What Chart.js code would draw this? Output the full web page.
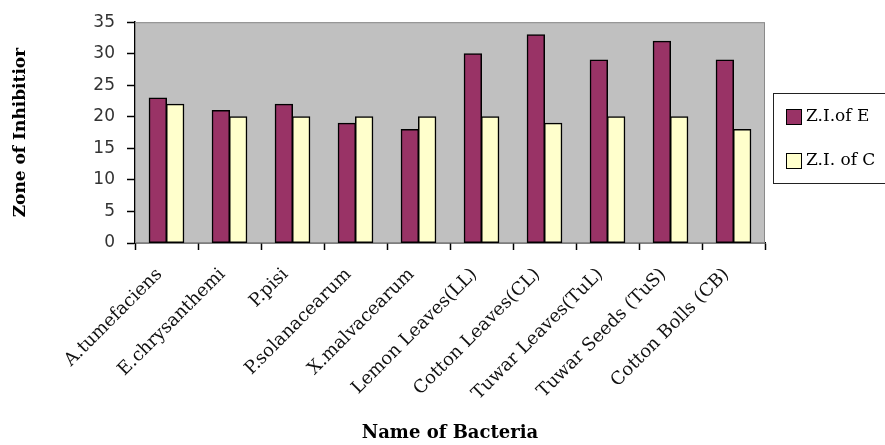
<!DOCTYPE html>
<html>
<head>
<meta charset="utf-8">
<script src="https://cdn.jsdelivr.net/npm/chart.js@4.4.1/dist/chart.umd.min.js"></script>
<style>
  html, body { margin: 0; padding: 0; background: #ffffff; }
  #wrap { width: 885px; height: 445px; }
</style>
</head>
<body>
<div id="wrap"><canvas id="c" width="885" height="445"></canvas></div>
<script>
// Bacteria / extract sources along the category axis
const categories = [
  'A.tumefaciens', 'E.chrysanthemi', 'P.pisi', 'P.solanacearum', 'X.malvacearum',
  'Lemon Leaves(LL)', 'Cotton Leaves(CL)', 'Tuwar Leaves(TuL)', 'Tuwar Seeds (TuS)', 'Cotton Bolls (CB)'
];
// Zone of inhibition values per series
const zoneE = [23, 21, 22, 19, 18, 30, 33, 29, 32, 29];
const zoneC = [22, 20, 20, 20, 20, 20, 19, 20, 20, 18];
const seriesNames = ['Z.I.of E', 'Z.I. of C'];
const yTicks = [0, 5, 10, 15, 20, 25, 30, 35];

const SERIF = "'DejaVu Serif', 'Liberation Serif', serif";
const SANS = "'DejaVu Sans', sans-serif";

// Grey plot area with a thin frame
const plotBackground = {
  id: 'plotBackground',
  beforeDatasetsDraw(chart) {
    const { ctx, chartArea: a } = chart;
    ctx.save();
    ctx.fillStyle = '#c0c0c0';
    ctx.fillRect(a.left, a.top, a.right - a.left, a.bottom - a.top);
    ctx.strokeStyle = '#8a8a8a';
    ctx.lineWidth = 1;
    ctx.strokeRect(a.left + 0.5, a.top + 0.5, a.right - a.left - 1, a.bottom - a.top - 1);
    ctx.restore();
  }
};

// Boxed legend on the right, built from the datasets
const boxLegend = {
  id: 'boxLegend',
  afterDraw(chart) {
    const { ctx } = chart;
    const left = 773, top = 93, bottom = 183;
    ctx.save();
    ctx.strokeStyle = '#222';
    ctx.lineWidth = 1;
    ctx.strokeRect(left + 0.5, top + 0.5, 140, bottom - top);
    ctx.font = '17px ' + SERIF;
    ctx.textBaseline = 'middle';
    chart.data.datasets.forEach((ds, i) => {
      const cy = 117 + i * 44;
      ctx.fillStyle = ds.backgroundColor;
      ctx.fillRect(786, cy - 8, 15, 15);
      ctx.strokeStyle = '#000';
      ctx.strokeRect(786.5, cy - 7.5, 15, 15);
      ctx.fillStyle = '#000';
      ctx.fillText(ds.label, 806, cy);
    });
    ctx.restore();
  }
};

new Chart(document.getElementById('c'), {
  type: 'bar',
  data: {
    labels: categories,
    datasets: [
      { label: seriesNames[0], data: zoneE, backgroundColor: '#993366', borderColor: '#000', borderWidth: 1.5,
        borderSkipped: false, inflateAmount: 0.5 },
      { label: seriesNames[1], data: zoneC, backgroundColor: '#ffffcc', borderColor: '#000', borderWidth: 1.5,
        borderSkipped: false, inflateAmount: 0.5 }
    ]
  },
  options: {
    responsive: false,
    animation: false,
    layout: { padding: { left: 0, right: 120, top: 18, bottom: 0 } },
    datasets: { bar: { categoryPercentage: 0.55, barPercentage: 1.0 } },
    plugins: { legend: { display: false }, tooltip: { enabled: false } },
    scales: {
      x: {
        afterFit(scale) { scale.height = 202; },
        grid: { offset: true, drawOnChartArea: false, color: '#000', tickLength: 7, tickWidth: 1.5 },
        border: { color: '#000', width: 1.5 },
        ticks: {
          autoSkip: false, minRotation: 45, maxRotation: 45, padding: 14, labelOffset: -7,
          color: '#111', font: { family: SERIF, size: 18 }
        },
        title: {
          display: true, text: 'Name of Bacteria', color: '#000',
          font: { family: SERIF, size: 18, weight: 'bold' }, padding: { top: 0, bottom: 1 }
        }
      },
      y: {
        min: 0, max: 35,
        afterFit(scale) { scale.width = 135; },
        afterBuildTicks(scale) { scale.ticks = yTicks.map(v => ({ value: v })); },
        grid: { drawOnChartArea: false, color: '#000', tickLength: 8, tickWidth: 1.5 },
        border: { color: '#000', width: 1.5 },
        ticks: { padding: 12, color: '#333', font: { family: SANS, size: 17 } },
        title: {
          display: true, text: 'Zone of Inhibitior', color: '#000',
          font: { family: SERIF, size: 17, weight: 'bold' }, padding: { top: 10, bottom: 0 }
        }
      }
    }
  },
  plugins: [plotBackground, boxLegend]
});
</script>
</body>
</html>
